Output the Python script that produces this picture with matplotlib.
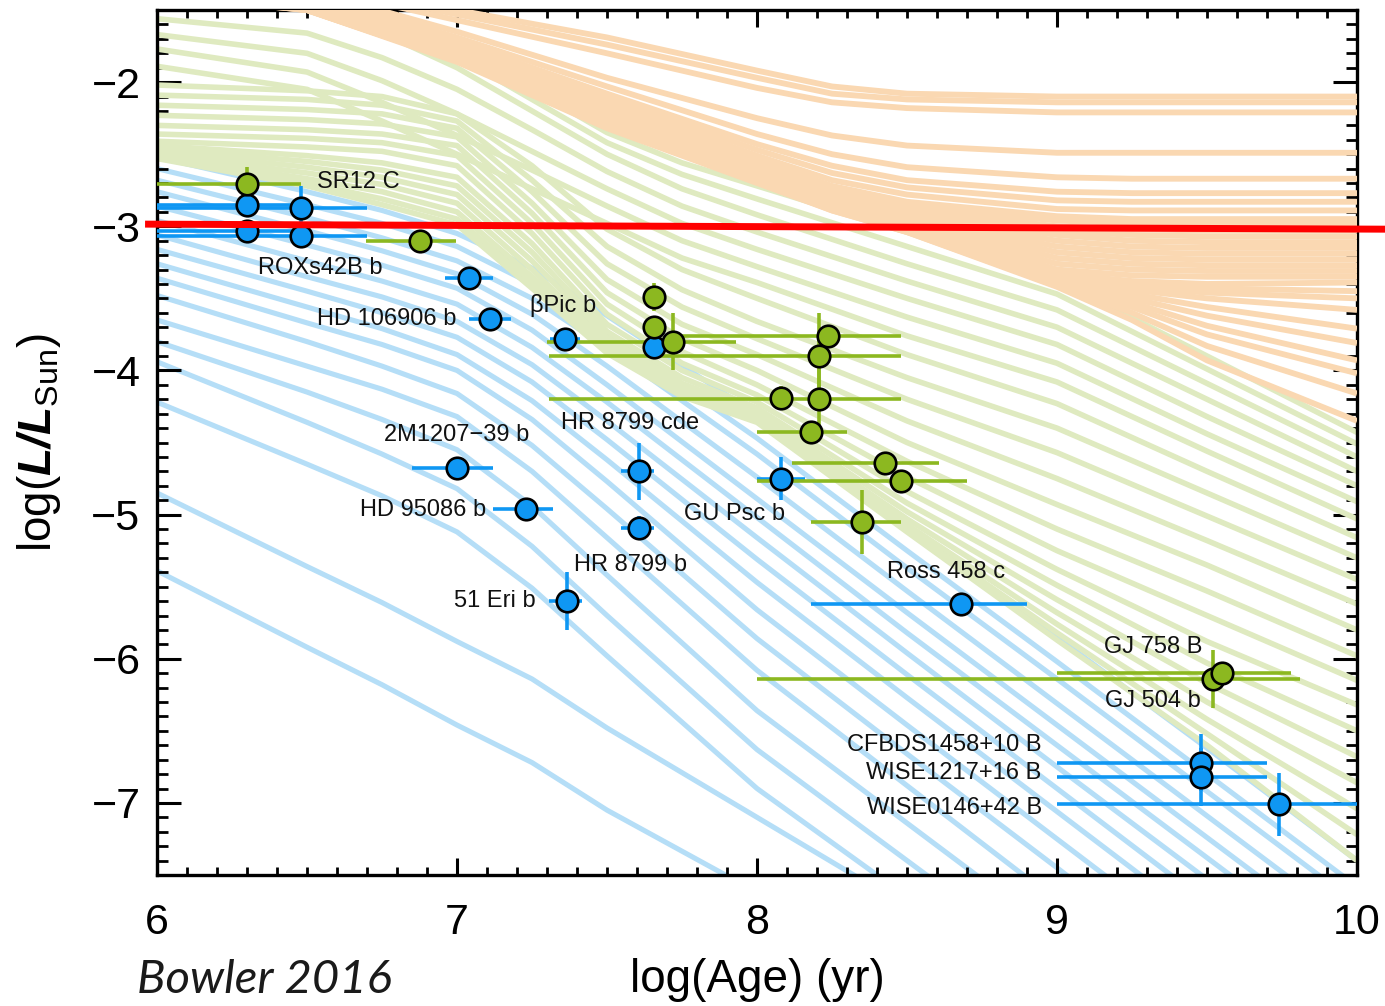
# -*- coding: utf-8 -*-
"""
Luminosity evolution of substellar companions.
Cooling tracks (planets / brown dwarfs / stars) with measured objects on top.
Writes out.png
"""

import matplotlib
matplotlib.use("Agg")
import matplotlib.pyplot as plt
from matplotlib.ticker import MultipleLocator

plt.rcParams["font.family"] = ["Liberation Sans", "DejaVu Sans"]
plt.rcParams["mathtext.fontset"] = "custom"
plt.rcParams["mathtext.rm"] = "Liberation Sans"
plt.rcParams["mathtext.it"] = "Liberation Sans:italic"
plt.rcParams["mathtext.bf"] = "Liberation Sans:bold"
plt.rcParams["mathtext.bfit"] = "Liberation Sans:bold:italic"

# ─────────────────────────────────────────────────────────────
# EVOLUTIONARY TRACKS  (log L at each log age knot)
# ─────────────────────────────────────────────────────────────

PLANET_AGES = [6.0, 6.5, 6.75, 7.0, 7.25, 7.5, 8.0, 8.5, 9.0, 9.5, 10.0]

# < 13 Mjup
PLANET_TRACKS = [
    [-2.52, -2.76, -2.89, -3.05, -3.29, -3.62, -4.31, -5.08, -5.85, -6.62, -7.40],
    [-2.60, -2.85, -2.98, -3.14, -3.40, -3.74, -4.47, -5.25, -6.02, -6.80, -7.58],
    [-2.68, -2.94, -3.08, -3.24, -3.50, -3.84, -4.58, -5.37, -6.14, -6.92, -7.70],
    [-2.76, -3.03, -3.17, -3.33, -3.61, -3.97, -4.74, -5.53, -6.31, -7.09, -7.87],
    [-2.86, -3.13, -3.27, -3.43, -3.72, -4.10, -4.89, -5.68, -6.46, -7.24, -8.02],
    [-2.96, -3.24, -3.38, -3.54, -3.84, -4.22, -5.02, -5.82, -6.60, -7.38, -8.16],
    [-3.06, -3.35, -3.49, -3.66, -3.96, -4.35, -5.16, -5.96, -6.75, -7.53, -8.30],
    [-3.16, -3.45, -3.60, -3.77, -4.08, -4.48, -5.31, -6.11, -6.90, -7.69, -8.50],
    [-3.26, -3.56, -3.71, -3.89, -4.21, -4.62, -5.47, -6.27, -7.06, -7.85, -8.60],
    [-3.36, -3.67, -3.82, -4.00, -4.34, -4.77, -5.66, -6.46, -7.25, -8.04, -8.80],
    [-3.48, -3.80, -3.97, -4.16, -4.52, -4.96, -5.86, -6.66, -7.45, -8.25, -9.00],
    [-3.65, -3.97, -4.13, -4.32, -4.70, -5.16, -6.08, -6.88, -7.68, -8.50, -9.30],
    [-3.80, -4.15, -4.34, -4.55, -4.94, -5.42, -6.36, -7.14, -7.92, -8.70, -9.50],
    [-3.94, -4.36, -4.58, -4.82, -5.22, -5.70, -6.63, -7.40, -8.17, -8.90, -9.70],
    [-4.22, -4.65, -4.87, -5.12, -5.51, -5.98, -6.90, -7.65, -8.40, -9.10, -9.90],
    [-4.85, -5.36, -5.61, -5.88, -6.14, -6.48, -7.10, -7.72, -8.45, -9.20, -10.0],
    [-5.39, -5.92, -6.18, -6.46, -6.72, -7.05, -7.62, -8.25, -8.90, -9.50, -10.1],
]

BD_AGES = [6.0, 6.5, 6.75, 7.0, 7.25, 7.5, 7.75, 8.0, 8.5, 9.0, 9.5, 10.0]

# 13-75 Mjup
BD_TRACKS = [
    [-1.15, -1.30, -1.50, -1.75, -2.05, -2.35, -2.56, -2.72, -3.04, -3.37, -3.90, -4.43],
    [-1.25, -1.38, -1.58, -1.82, -2.12, -2.42, -2.64, -2.81, -3.14, -3.47, -3.99, -4.51],
    [-1.35, -1.46, -1.66, -1.90, -2.20, -2.50, -2.74, -2.92, -3.26, -3.58, -4.09, -4.60],
    [-1.56, -1.66, -1.83, -2.05, -2.33, -2.62, -2.86, -3.04, -3.38, -3.70, -4.20, -4.70],
    [-1.67, -1.80, -1.99, -2.22, -2.48, -2.74, -2.98, -3.16, -3.50, -3.82, -4.32, -4.80],
    [-1.77, -1.93, -2.14, -2.37, -2.61, -2.86, -3.10, -3.28, -3.63, -3.95, -4.44, -4.91],
    [-1.89, -2.05, -2.27, -2.50, -2.74, -2.98, -3.22, -3.39, -3.76, -4.08, -4.56, -5.03],
    [-2.02, -2.06, -2.10, -2.22, -2.58, -3.02, -3.30, -3.50, -3.89, -4.23, -4.70, -5.16],
    [-2.09, -2.12, -2.16, -2.27, -2.68, -3.14, -3.44, -3.66, -4.05, -4.40, -4.85, -5.30],
    [-2.16, -2.19, -2.22, -2.32, -2.76, -3.26, -3.56, -3.78, -4.20, -4.57, -5.01, -5.45],
    [-2.23, -2.26, -2.29, -2.38, -2.84, -3.37, -3.68, -3.89, -4.35, -4.75, -5.18, -5.62],
    [-2.30, -2.33, -2.36, -2.44, -2.91, -3.46, -3.78, -4.00, -4.50, -4.93, -5.35, -5.80],
    [-2.36, -2.39, -2.42, -2.51, -2.98, -3.54, -3.87, -4.10, -4.63, -5.10, -5.53, -5.98],
    [-2.41, -2.45, -2.48, -2.58, -3.05, -3.61, -3.95, -4.17, -4.74, -5.25, -5.70, -6.15],
    [-2.44, -2.51, -2.56, -2.66, -3.12, -3.68, -4.00, -4.22, -4.84, -5.38, -5.88, -6.32],
    [-2.46, -2.55, -2.61, -2.72, -3.18, -3.73, -4.05, -4.26, -4.92, -5.49, -6.03, -6.50],
    [-2.48, -2.59, -2.66, -2.78, -3.24, -3.77, -4.09, -4.29, -4.98, -5.59, -6.17, -6.68],
    [-2.50, -2.63, -2.71, -2.84, -3.30, -3.81, -4.12, -4.32, -5.03, -5.68, -6.30, -6.86],
    [-2.51, -2.67, -2.76, -2.90, -3.35, -3.84, -4.15, -4.34, -5.07, -5.76, -6.42, -7.04],
    [-2.52, -2.70, -2.81, -2.95, -3.39, -3.86, -4.17, -4.35, -5.10, -5.82, -6.52, -7.22],
    [-2.53, -2.72, -2.85, -2.99, -3.43, -3.88, -4.18, -4.36, -5.12, -5.87, -6.60, -7.40],
]

STAR_AGES = [6.0, 6.5, 7.0, 7.5, 8.0, 8.25, 8.5, 9.0, 9.25, 9.5, 10.0]

# > 75 Mjup
STAR_TRACKS = [
    [-1.05, -1.30, -1.50, -1.69, -1.92, -2.03, -2.08, -2.10, -2.10, -2.10, -2.10],
    [-1.08, -1.32, -1.53, -1.74, -1.97, -2.08, -2.12, -2.14, -2.14, -2.14, -2.14],
    [-1.11, -1.34, -1.57, -1.80, -2.04, -2.14, -2.18, -2.21, -2.21, -2.21, -2.21],
    [-1.14, -1.36, -1.65, -1.97, -2.25, -2.37, -2.44, -2.49, -2.49, -2.49, -2.49],
    [-1.16, -1.38, -1.69, -2.03, -2.36, -2.50, -2.59, -2.66, -2.67, -2.67, -2.67],
    [-1.18, -1.39, -1.72, -2.08, -2.43, -2.58, -2.68, -2.76, -2.77, -2.77, -2.77],
    [-1.19, -1.40, -1.74, -2.11, -2.47, -2.63, -2.73, -2.82, -2.83, -2.83, -2.83],
    [-1.20, -1.41, -1.75, -2.14, -2.51, -2.68, -2.78, -2.88, -2.89, -2.89, -2.89],
    [-1.21, -1.42, -1.76, -2.16, -2.54, -2.72, -2.83, -2.93, -2.95, -2.95, -2.95],
    [-1.22, -1.43, -1.77, -2.17, -2.55, -2.74, -2.86, -2.96, -2.98, -2.99, -2.99],
    [-1.23, -1.43, -1.78, -2.18, -2.56, -2.75, -2.88, -3.00, -3.02, -3.03, -3.03],
    [-1.24, -1.44, -1.78, -2.19, -2.57, -2.76, -2.90, -3.03, -3.06, -3.07, -3.07],
    [-1.25, -1.44, -1.79, -2.20, -2.58, -2.77, -2.92, -3.06, -3.10, -3.11, -3.11],
    [-1.26, -1.45, -1.79, -2.21, -2.59, -2.78, -2.93, -3.10, -3.14, -3.15, -3.15],
    [-1.27, -1.45, -1.80, -2.22, -2.60, -2.79, -2.94, -3.14, -3.18, -3.19, -3.19],
    [-1.28, -1.46, -1.80, -2.23, -2.61, -2.80, -2.95, -3.18, -3.22, -3.23, -3.23],
    [-1.29, -1.46, -1.81, -2.24, -2.62, -2.81, -2.96, -3.22, -3.26, -3.27, -3.27],
    [-1.30, -1.47, -1.81, -2.25, -2.63, -2.82, -2.97, -3.26, -3.30, -3.31, -3.31],
    [-1.31, -1.47, -1.82, -2.26, -2.64, -2.83, -2.98, -3.30, -3.34, -3.35, -3.35],
    [-1.32, -1.48, -1.82, -2.27, -2.65, -2.84, -2.99, -3.33, -3.38, -3.40, -3.39],
    [-1.33, -1.48, -1.83, -2.28, -2.66, -2.85, -3.00, -3.34, -3.40, -3.43, -3.45],
    [-1.34, -1.48, -1.83, -2.28, -2.66, -2.86, -3.01, -3.35, -3.42, -3.46, -3.50],
    [-1.35, -1.49, -1.84, -2.29, -2.67, -2.86, -3.01, -3.36, -3.44, -3.50, -3.58],
    [-1.36, -1.49, -1.84, -2.29, -2.67, -2.87, -3.02, -3.37, -3.47, -3.56, -3.71],
    [-1.37, -1.49, -1.84, -2.30, -2.68, -2.87, -3.02, -3.38, -3.50, -3.62, -3.81],
    [-1.38, -1.50, -1.85, -2.30, -2.68, -2.88, -3.03, -3.39, -3.53, -3.69, -3.93],
    [-1.39, -1.50, -1.85, -2.31, -2.69, -2.88, -3.03, -3.40, -3.56, -3.75, -4.02],
    [-1.40, -1.50, -1.85, -2.31, -2.69, -2.89, -3.04, -3.41, -3.60, -3.83, -4.16],
    [-1.40, -1.50, -1.86, -2.32, -2.70, -2.89, -3.04, -3.42, -3.65, -3.93, -4.35],
]

# ─────────────────────────────────────────────────────────────
# OBJECTS  (log age, log L, age err -, age err +, log L err)
# ─────────────────────────────────────────────────────────────

PLANET_AGE = [6.30, 6.48, 6.30, 6.48, 7.04, 7.11, 7.36, 7.655, 7.00, 7.23,
              7.365, 7.605, 7.605, 8.08, 8.68, 9.48, 9.48, 9.74]
PLANET_LUM = [-2.85, -2.87, -3.03, -3.07, -3.36, -3.64, -3.78, -3.84, -4.68, -4.96,
              -5.60, -4.70, -5.09, -4.75, -5.62, -6.72, -6.82, -7.01]
PLANET_AGE_LO = [0.30, 0.48, 0.30, 0.48, 0.08, 0.07, 0.05, 0.03, 0.15, 0.11,
                 0.06, 0.06, 0.06, 0.08, 0.50, 0.48, 0.48, 0.74]
PLANET_AGE_HI = [0.18, 0.22, 0.18, 0.22, 0.08, 0.07, 0.05, 0.03, 0.12, 0.09,
                 0.05, 0.05, 0.05, 0.08, 0.22, 0.22, 0.22, 0.30]
PLANET_LUM_ERR = [0.0, 0.15, 0.06, 0.06, 0.05, 0.05, 0.05, 0.03, 0.03, 0.06,
                  0.20, 0.20, 0.08, 0.15, 0.0, 0.20, 0.20, 0.22]

BD_AGE = [6.30, 6.875, 7.655, 7.655, 7.72, 8.235, 8.205, 8.08, 8.205, 8.18,
          8.425, 8.48, 8.35, 9.52, 9.55]
BD_LUM = [-2.71, -3.10, -3.49, -3.70, -3.80, -3.76, -3.90, -4.19, -4.20, -4.43,
          -4.64, -4.77, -5.05, -6.14, -6.10]
BD_AGE_LO = [0.30, 0.18, 0.0, 0.0, 0.42, 0.515, 0.90, 0.0, 0.90, 0.18,
             0.31, 0.48, 0.17, 1.52, 0.55]
BD_AGE_HI = [0.18, 0.12, 0.0, 0.0, 0.21, 0.245, 0.275, 0.0, 0.275, 0.12,
             0.18, 0.22, 0.13, 0.29, 0.23]
BD_LUM_ERR = [0.12, 0.03, 0.10, 0.08, 0.20, 0.0, 0.30, 0.08, 0.25, 0.0,
              0.0, 0.0, 0.22, 0.20, 0.0]

# deuterium-burning reference line
LIMIT_AGE = [5.96, 10.10]
LIMIT_LUM = [-2.985, -3.02]

# name, log age, log L, alignment
LABELS = [
    ("SR12 C", 6.534, -2.69, "left"),
    ("ROXs42B b", 6.337, -3.29, "left"),
    ("HD 106906 b", 6.997, -3.645, "right"),
    ("βPic b", 7.244, -3.547, "left"),
    ("2M1207−39 b", 6.998, -4.45, "center"),
    ("HR 8799 cde", 7.348, -4.365, "left"),
    ("HD 95086 b", 7.098, -4.968, "right"),
    ("GU Psc b", 7.758, -4.996, "left"),
    ("HR 8799 b", 7.391, -5.35, "left"),
    ("51 Eri b", 7.261, -5.60, "right"),
    ("Ross 458 c", 8.432, -5.398, "left"),
    ("GJ 758 B", 9.156, -5.918, "left"),
    ("GJ 504 b", 9.160, -6.293, "left"),
    ("CFBDS1458+10 B", 8.949, -6.598, "right"),
    ("WISE1217+16 B", 8.949, -6.792, "right"),
    ("WISE0146+42 B", 8.949, -7.035, "right"),
]

PLANET_TRACK_COLOR = "#b5def7"
BD_TRACK_COLOR = "#dfeac0"
STAR_TRACK_COLOR = "#fad8b2"
PLANET_COLOR = "#0f97f3"
BD_COLOR = "#8cb820"


def draw_tracks(ax, ages, tracks, color, lw, z):
    for lum in tracks:
        ax.plot(ages, lum, color=color, lw=lw, solid_joinstyle="round",
                solid_capstyle="butt", zorder=z)


def draw_objects(ax, age, lum, lo, hi, lerr, color):
    ax.errorbar(age, lum, xerr=[lo, hi], yerr=lerr, fmt="none",
                ecolor=color, elinewidth=2.6, capsize=0, zorder=5)
    ax.plot(age, lum, "o", ms=15.5, mfc=color, mec="black", mew=1.9,
            ls="none", zorder=6)


def main():
    fig = plt.figure(figsize=(13.85, 10.06), dpi=100)
    ax = fig.add_axes([0.1134, 0.1302, 0.8664, 0.8598])

    draw_tracks(ax, PLANET_AGES, PLANET_TRACKS, PLANET_TRACK_COLOR, 3.7, 1)
    draw_tracks(ax, BD_AGES, BD_TRACKS, BD_TRACK_COLOR, 4.0, 2)
    draw_tracks(ax, STAR_AGES, STAR_TRACKS, STAR_TRACK_COLOR, 4.2, 3)

    draw_objects(ax, PLANET_AGE, PLANET_LUM, PLANET_AGE_LO, PLANET_AGE_HI,
                 PLANET_LUM_ERR, PLANET_COLOR)
    draw_objects(ax, BD_AGE, BD_LUM, BD_AGE_LO, BD_AGE_HI, BD_LUM_ERR, BD_COLOR)

    for name, x, y, ha in LABELS:
        ax.text(x, y, name, ha=ha, va="center", fontsize=17, color="#111111",
                zorder=7)

    ax.plot(LIMIT_AGE, LIMIT_LUM, color="#ff0000", lw=5, solid_capstyle="butt",
            clip_on=False, zorder=10)

    ax.set_xlim(6, 10)
    ax.set_ylim(-7.5, -1.5)
    ax.xaxis.set_major_locator(MultipleLocator(1))
    ax.xaxis.set_minor_locator(MultipleLocator(0.1))
    ax.yaxis.set_major_locator(MultipleLocator(1))
    ax.yaxis.set_minor_locator(MultipleLocator(0.1))

    ax.tick_params(which="both", direction="in", top=True, right=True)
    ax.tick_params(axis="y", which="major", length=17, width=2.2, pad=12,
                   labelsize=31)
    ax.tick_params(axis="y", which="minor", length=8, width=2.0)
    ax.tick_params(axis="x", which="major", length=12, width=2.2, pad=20,
                   labelsize=31)
    ax.tick_params(axis="x", which="minor", length=6, width=2.0)
    for sp in ax.spines.values():
        sp.set_linewidth(2.4)

    ax.set_xlabel("log(Age) (yr)", fontsize=33, labelpad=11)
    ax.set_ylabel(r"log($\mathbfit{L/L}_{\mathrm{Sun}}$)", fontsize=33,
                  labelpad=20)

    fig.text(0.099, 0.013, "Bowler 2016", fontsize=34, style="italic",
             va="baseline", family=["Lato", "DejaVu Sans"], color="#1a1a1a")

    fig.savefig("out.png", dpi=100)
    plt.close(fig)


if __name__ == "__main__":
    main()
